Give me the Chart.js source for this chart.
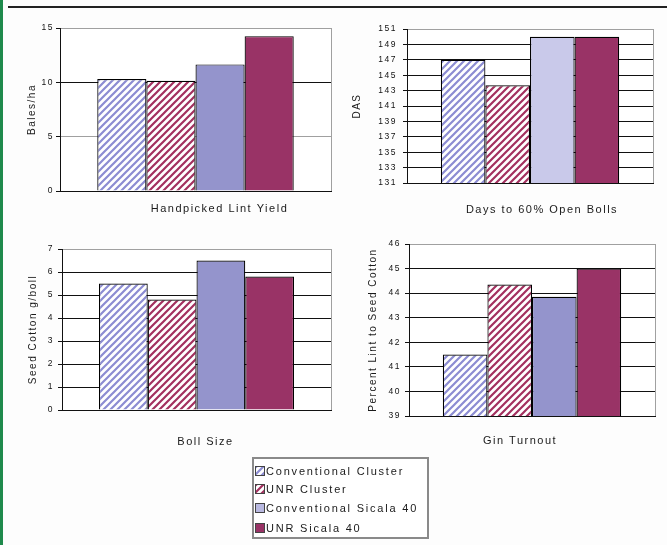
<!DOCTYPE html>
<html><head><meta charset="utf-8">
<script src="https://cdn.jsdelivr.net/npm/chart.js@4/dist/chart.umd.min.js"></script>
<style>
html,body{margin:0;padding:0;}
body{width:667px;height:545px;position:relative;background:#fdfdfd;overflow:hidden;font-family:"Liberation Sans",Arial,sans-serif;}
#greenbar{position:absolute;left:0;top:0;width:3px;height:545px;background:#1f8a4c;}
#topline{position:absolute;left:8px;top:6px;width:659px;height:2px;background:#222;}
canvas.panel{position:absolute;}
#legend{position:absolute;left:252px;top:457px;width:177px;height:82px;border:2px solid #8a8a8a;background:#fff;box-sizing:border-box;}
.item{position:absolute;left:1px;height:14px;font-size:11px;letter-spacing:1.8px;color:#1a1a1a;white-space:nowrap;line-height:14px;}
.item canvas{vertical-align:-1px;margin-right:1px;border:1px solid #444;box-sizing:border-box;}
</style></head>
<body>
<div id="greenbar"></div>
<div id="topline"></div>
<canvas class="panel" id="c1" width="328" height="220" style="left:8px;top:10px"></canvas>
<canvas class="panel" id="c2" width="325" height="220" style="left:340px;top:10px"></canvas>
<canvas class="panel" id="c3" width="328" height="225" style="left:8px;top:232px"></canvas>
<canvas class="panel" id="c4" width="325" height="225" style="left:340px;top:232px"></canvas>
<div id="legend"></div>
<script>
// ---- data ----
const seriesNames = ['Conventional Cluster', 'UNR Cluster', 'Conventional Sicala 40', 'UNR Sicala 40'];
const categories = ['Handpicked Lint Yield', 'Days to 60% Open Bolls', 'Boll Size', 'Gin Turnout'];
const yTitles = ['Bales/ha', 'DAS', 'Seed Cotton g/boll', 'Percent Lint to Seed Cotton'];
const lintYield = [10.3, 10.15, 11.65, 14.25];
const daysTo60 = [147.0, 143.7, 150.0, 150.0];
const bollSize = [5.5, 4.8, 6.5, 5.8];
const ginTurnout = [41.5, 44.35, 43.85, 45.0];
const yieldTicks = [0, 5, 10, 15];
const dasTicks = [131, 133, 135, 137, 139, 141, 143, 145, 147, 149, 151];
const bollTicks = [0, 1, 2, 3, 4, 5, 6, 7];
const ginTicks = [39, 40, 41, 42, 43, 44, 45, 46];

// ---- styles ----
const FONT = '"Liberation Sans", Arial, sans-serif';
const LS = '1.5px';
function hatch(color) {
  const c = document.createElement('canvas'); c.width = c.height = 7;
  const x = c.getContext('2d');
  x.fillStyle = '#fff'; x.fillRect(0, 0, 7, 7);
  x.strokeStyle = color; x.lineWidth = 2.2;
  x.beginPath();
  x.moveTo(-1, 8); x.lineTo(8, -1);
  x.moveTo(-1, 1); x.lineTo(1, -1);
  x.moveTo(6, 8); x.lineTo(8, 6);
  x.stroke();
  return x.createPattern(c, 'repeat');
}
const convHatch = hatch('#8c8cd2');
const unrHatch = hatch('#a3305f');
const baseFills = [convHatch, unrHatch, '#9494cc', '#993366'];

const panels = [
  {id: 'c1', values: lintYield, idx: 0, ticks: yieldTicks, box: {x: 8, y: 10, w: 328, h: 220},
   area: {L: 60, T: 28, R: 331, B: 191}, labelPad: 11, labelOffset: 24, titleX: 32, tickPad: 2, grayVals: [5, 15], fills: baseFills},
  {id: 'c2', values: daysTo60, idx: 1, ticks: dasTicks, box: {x: 340, y: 10, w: 325, h: 220},
   area: {L: 407, T: 29, R: 653, B: 183}, labelPad: 20, labelOffset: 12, titleX: 357, tickPad: 6, grayVals: [151], fills: [convHatch, unrHatch, '#c9c9ea', '#993366']},
  {id: 'c3', values: bollSize, idx: 2, ticks: bollTicks, box: {x: 8, y: 232, w: 328, h: 225},
   area: {L: 62, T: 249, R: 331, B: 410}, labelPad: 25, labelOffset: 9, titleX: 33, tickPad: 4, grayVals: [7], fills: baseFills},
  {id: 'c4', values: ginTurnout, idx: 3, ticks: ginTicks, box: {x: 340, y: 232, w: 325, h: 225},
   area: {L: 409, T: 244, R: 655, B: 416}, labelPad: 18, labelOffset: -12, titleX: 373, tickPad: 4, grayVals: [46], fills: baseFills}
];

const spacingPlugin = {
  id: 'spacing',
  beforeLayout(chart) { chart.ctx.letterSpacing = LS; },
  beforeDraw(chart) {
    chart.ctx.letterSpacing = LS;
    const {ctx, chartArea: a} = chart;
    ctx.save(); ctx.fillStyle = '#fff';
    ctx.fillRect(a.left, a.top, a.right - a.left, a.bottom - a.top);
    ctx.restore();
  }
};

panels.forEach(p => {
  const tks = p.ticks;
  const yW = p.area.L - p.box.x;
  const xH = p.box.y + p.box.h - p.area.B;
  new Chart(document.getElementById(p.id), {
    type: 'bar',
    data: {
      labels: [categories[p.idx]],
      datasets: seriesNames.map((n, i) => ({
        label: n, data: [p.values[i]], backgroundColor: p.fills[i],
        borderColor: '#000', borderWidth: 1.2, borderSkipped: 'start',
        categoryPercentage: 0.725, barPercentage: 1
      }))
    },
    options: {
      responsive: false, animation: false, devicePixelRatio: 1,
      layout: {padding: {left: 0, top: p.area.T - p.box.y, right: p.box.x + p.box.w - p.area.R, bottom: 0}},
      plugins: {legend: {display: false}, tooltip: {enabled: false}, title: {display: false}},
      scales: {
        x: {
          afterFit(s) { s.height = xH; },
          grid: {color: '#a0a0a0', drawTicks: false, lineWidth: 1},
          border: {color: '#111', width: 1},
          ticks: {padding: p.labelPad, labelOffset: p.labelOffset, color: '#1a1a1a', font: {family: FONT, size: 11}}
        },
        y: {
          min: tks[0], max: tks[tks.length - 1],
          afterFit(s) { s.width = yW; },
          afterBuildTicks(s) { s.ticks = tks.map(v => ({value: v})); },
          grid: {
            color: c => (p.grayVals.includes(c.tick && c.tick.value) ? '#a0a0a0' : '#111'),
            tickColor: '#111', tickLength: 4, lineWidth: 1
          },
          border: {color: '#111', width: 1},
          ticks: {padding: p.tickPad, color: '#111', font: {family: FONT, size: 8.5}, autoSkip: false},
          title: {display: true, text: yTitles[p.idx], color: '#1a1a1a', font: {family: FONT, size: 10},
                  padding: {top: p.titleX - p.box.x - 6, bottom: 0}}
        }
      }
    },
    plugins: [spacingPlugin]
  });
});

// legend
const leg = document.getElementById('legend');
const legTops = [5, 23, 42, 62];
seriesNames.forEach((n, i) => {
  const d = document.createElement('div'); d.className = 'item'; d.style.top = legTops[i] + 'px';
  const sw = document.createElement('canvas'); sw.width = 8; sw.height = 8;
  const sx = sw.getContext('2d'); sx.fillStyle = [convHatch, unrHatch, '#b8b8e0', '#993366'][i]; sx.fillRect(0, 0, 8, 8);
  d.appendChild(sw);
  d.appendChild(document.createTextNode(n));
  leg.appendChild(d);
});
</script>
</body></html>
